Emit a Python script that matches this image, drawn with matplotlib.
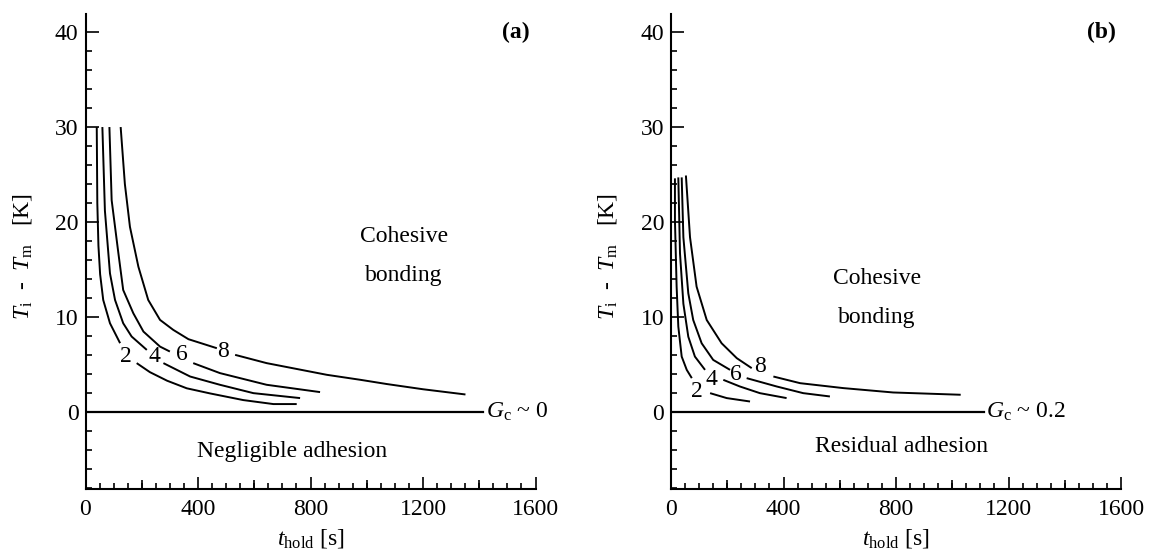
import numpy as np
import matplotlib
matplotlib.use("Agg")
import matplotlib.pyplot as plt
from matplotlib.ticker import MultipleLocator, FixedLocator, NullFormatter

plt.rcParams['font.family'] = ['Liberation Serif', 'DejaVu Serif']
plt.rcParams['mathtext.fontset'] = 'custom'
plt.rcParams['mathtext.rm'] = 'Liberation Serif'
plt.rcParams['mathtext.it'] = 'Liberation Serif:italic'
plt.rcParams['mathtext.bf'] = 'Liberation Serif:bold'

nan = np.nan

# ---- Panel (a): contour lines (NaN marks the gap left for the label) ----
a_levels = ["2", "4", "6", "8"]
a2_x = [40, 42, 46, 52, 63, 87, 123, nan, 182, 229, 290, 360, 443, 561, 668, 751]
a2_y = [30, 22, 17.5, 14.5, 11.8, 9.35, 7.25, nan, 5.15, 4.2, 3.3, 2.5, 1.96, 1.26, 0.84, 0.84]
a4_x = [60, 69, 87, 105, 134, 164, 218, nan, 277, 372, 478, 597, 763]
a4_y = [30, 21.2, 14.6, 11.8, 9.35, 7.95, 6.54, nan, 5.15, 3.74, 2.87, 1.99, 1.47]
a6_x = [85, 93, 117, 134, 170, 206, 265, 300, nan, 383, 478, 644, 834]
a6_y = [30, 22.3, 16.7, 12.85, 10.4, 8.47, 6.89, 6.37, nan, 5.15, 4.1, 2.87, 2.1]
a8_x = [125, 140, 158, 188, 223, 265, 312, 366, 467, nan, 532, 644, 858, 976, 1071, 1200, 1351]
a8_y = [30, 24, 19.5, 15.3, 11.8, 9.7, 8.65, 7.67, 6.72, nan, 6.02, 5.15, 3.92, 3.4, 2.95, 2.4, 1.85]
a_label_x = [143, 244, 344, 490]
a_label_y = [5.84, 5.84, 6.02, 6.37]
a_zero_x = [0, 1413]
a_zero_y = [0, 0]

# ---- Panel (b) ----
b_levels = ["2", "4", "6", "8"]
b2_x = [14, 14, 20, 26, 38, 56, 74, nan, 139, 198, 281]
b2_y = [24.6, 20.2, 13.2, 9.0, 5.84, 4.44, 3.57, nan, 1.99, 1.47, 1.11]
b4_x = [26, 32, 44, 61.5, 85, 121, nan, 186, 245, 316, 411]
b4_y = [24.7, 16.7, 11.4, 7.93, 5.84, 4.44, nan, 3.39, 2.69, 1.99, 1.47]
b6_x = [38, 44, 61.5, 79, 109, 150, 210, nan, 269, 376, 470, 565]
b6_y = [24.7, 18.4, 12.5, 9.69, 7.24, 5.49, 4.44, nan, 3.57, 2.69, 1.99, 1.64]
b8_x = [53, 67.6, 91, 127, 180, 234, 287, nan, 364, 459, 613, 790, 1030]
b8_y = [24.9, 18.4, 13.2, 9.69, 7.24, 5.67, 4.62, nan, 3.74, 3.04, 2.52, 2.06, 1.82]
b_label_x = [91, 145, 231, 316]
b_label_y = [2.16, 3.39, 3.91, 4.79]
b_zero_x = [0, 1113]
b_zero_y = [0, 0]

FS = 17
W, H = 1151, 549
fig = plt.figure(figsize=(W / 100, H / 100), dpi=100)

bottom_px, top_px = 489, 14
ax_a = fig.add_axes([85.5 / W, (H - bottom_px) / H, 450 / W, (bottom_px - top_px) / H])
ax_b = fig.add_axes([671 / W, (H - bottom_px) / H, 450 / W, (bottom_px - top_px) / H])


def style(ax):
    ax.set_xlim(0, 1600)
    ax.set_ylim(-8.1, 41.9)
    for s in ['top', 'right']:
        ax.spines[s].set_visible(False)
    for s in ['left', 'bottom']:
        ax.spines[s].set_linewidth(1.5)
    ax.xaxis.set_major_locator(MultipleLocator(400))
    ax.xaxis.set_minor_locator(MultipleLocator(50))
    ax.yaxis.set_major_locator(MultipleLocator(10))
    ax.yaxis.set_minor_locator(MultipleLocator(2))
    ax.tick_params(which='both', direction='in', labelsize=FS, width=1.2)
    ax.tick_params(which='major', length=9)
    ax.tick_params(which='minor', length=4.3)
    ax.tick_params(axis='x', which='major', pad=7)
    ax.tick_params(axis='y', which='major', pad=5)
    # intermediate ticks at the 200 s positions
    sec = ax.secondary_xaxis('bottom')
    sec.xaxis.set_major_locator(FixedLocator([200, 600, 1000, 1400]))
    sec.xaxis.set_major_formatter(NullFormatter())
    sec.tick_params(direction='in', length=6.8, width=1.2)
    for s in sec.spines.values():
        s.set_visible(False)
    ax.set_xlabel(r'$t_{\mathrm{hold}}$ [s]', fontsize=FS)
    ax.xaxis.set_label_coords(0.5, -0.08)
    ax.set_ylabel(r'$T_{\mathrm{i}}$  -  $T_{\mathrm{m}}$   [K]', fontsize=FS)
    ax.yaxis.set_label_coords(-0.115, 0.49)


def draw(ax, curves, levels, lx, ly, zx, zy):
    for (x, y) in curves:
        ax.plot(x, y, color='black', lw=1.4, solid_capstyle='butt')
    for t, x, y in zip(levels, lx, ly):
        ax.text(x, y, t, fontsize=FS, ha='center', va='center')
    ax.plot(zx, zy, color='black', lw=1.6)


style(ax_a)
style(ax_b)

draw(ax_a, [(a2_x, a2_y), (a4_x, a4_y), (a6_x, a6_y), (a8_x, a8_y)],
     a_levels, a_label_x, a_label_y, a_zero_x, a_zero_y)
draw(ax_b, [(b2_x, b2_y), (b4_x, b4_y), (b6_x, b6_y), (b8_x, b8_y)],
     b_levels, b_label_x, b_label_y, b_zero_x, b_zero_y)

# annotations panel (a)
ax_a.text(a_zero_x[-1] + 12, 0, r'$G_{\mathrm{c}}$ ~ 0', fontsize=FS, ha='left', va='center')
ax_a.text(1580, 40, '(a)', fontsize=FS, fontweight='bold', ha='right', va='center')
ax_a.text(1133, 18.5, 'Cohesive', fontsize=FS, ha='center', va='center')
ax_a.text(1133, 14.4, 'bonding', fontsize=FS, ha='center', va='center')
ax_a.text(735, -4.2, 'Negligible adhesion', fontsize=FS, ha='center', va='center')

# annotations panel (b)
ax_b.text(b_zero_x[-1] + 8, 0, r'$G_{\mathrm{c}}$ ~ 0.2', fontsize=FS, ha='left', va='center')
ax_b.text(1580, 40, '(b)', fontsize=FS, fontweight='bold', ha='right', va='center')
ax_b.text(732, 14.1, 'Cohesive', fontsize=FS, ha='center', va='center')
ax_b.text(732, 10.0, 'bonding', fontsize=FS, ha='center', va='center')
ax_b.text(818, -3.6, 'Residual adhesion', fontsize=FS, ha='center', va='center')

fig.savefig('out.png', dpi=100)
